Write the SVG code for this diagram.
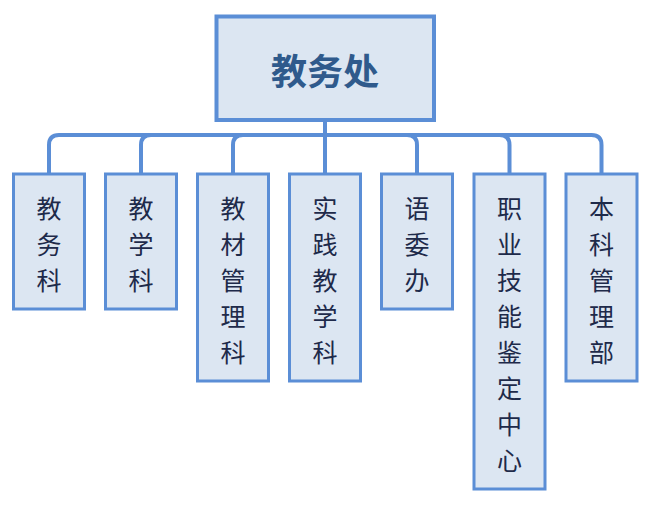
<svg xmlns="http://www.w3.org/2000/svg" width="649" height="506" viewBox="0 0 649 506">
<style>
.box{fill:#DCE6F2;stroke:#5B8ED6;stroke-width:3}
.top{fill:#DCE6F2;stroke:#5B8ED6;stroke-width:4}
.c{fill:none;stroke:#5B8ED6;stroke-width:4}
.t{font-family:"Noto Sans CJK SC","Noto Sans",sans-serif;font-size:25px;fill:#1E2A4A;text-anchor:middle;dominant-baseline:central}
.h{font-family:"Noto Sans CJK SC","Noto Sans",sans-serif;font-size:36px;font-weight:bold;fill:#2F5A8C;text-anchor:middle;dominant-baseline:central}
</style>
<g id="connectors">
<path class="c" d="M325,120 V135 H59 Q49,135 49,145 V174"/>
<path class="c" d="M325,120 V135 H151 Q141,135 141,145 V174"/>
<path class="c" d="M325,120 V135 H243 Q233,135 233,145 V174"/>
<path class="c" d="M325,120 V174"/>
<path class="c" d="M325,120 V135 H407 Q417,135 417,145 V174"/>
<path class="c" d="M325,120 V135 H499.5 Q509.5,135 509.5,145 V174"/>
<path class="c" d="M325,120 V135 H591.5 Q601.5,135 601.5,145 V174"/>
</g>
<g id="n0"><rect class="top" x="216.5" y="16.5" width="217.5" height="103.5"/><text class="h" x="325" y="69">教务处</text></g>
<g id="n1"><rect class="box" x="13.5" y="174" width="71" height="135"/>
<text class="t" x="49" y="207">教</text><text class="t" x="49" y="243">务</text><text class="t" x="49" y="279">科</text></g>
<g id="n2"><rect class="box" x="105.5" y="174" width="71" height="135"/>
<text class="t" x="141" y="207">教</text><text class="t" x="141" y="243">学</text><text class="t" x="141" y="279">科</text></g>
<g id="n3"><rect class="box" x="197.5" y="174" width="71" height="207"/>
<text class="t" x="233" y="207">教</text><text class="t" x="233" y="243">材</text><text class="t" x="233" y="279">管</text><text class="t" x="233" y="315">理</text><text class="t" x="233" y="351">科</text></g>
<g id="n4"><rect class="box" x="289.5" y="174" width="71" height="207"/>
<text class="t" x="325" y="207">实</text><text class="t" x="325" y="243">践</text><text class="t" x="325" y="279">教</text><text class="t" x="325" y="315">学</text><text class="t" x="325" y="351">科</text></g>
<g id="n5"><rect class="box" x="381.5" y="174" width="71" height="135"/>
<text class="t" x="417" y="207">语</text><text class="t" x="417" y="243">委</text><text class="t" x="417" y="279">办</text></g>
<g id="n6"><rect class="box" x="474" y="174" width="71" height="315"/>
<text class="t" x="509.5" y="207">职</text><text class="t" x="509.5" y="243">业</text><text class="t" x="509.5" y="279">技</text><text class="t" x="509.5" y="315">能</text><text class="t" x="509.5" y="351">鉴</text><text class="t" x="509.5" y="387">定</text><text class="t" x="509.5" y="423">中</text><text class="t" x="509.5" y="459">心</text></g>
<g id="n7"><rect class="box" x="566" y="174" width="71" height="207"/>
<text class="t" x="601.5" y="207">本</text><text class="t" x="601.5" y="243">科</text><text class="t" x="601.5" y="279">管</text><text class="t" x="601.5" y="315">理</text><text class="t" x="601.5" y="351">部</text></g>
</svg>
